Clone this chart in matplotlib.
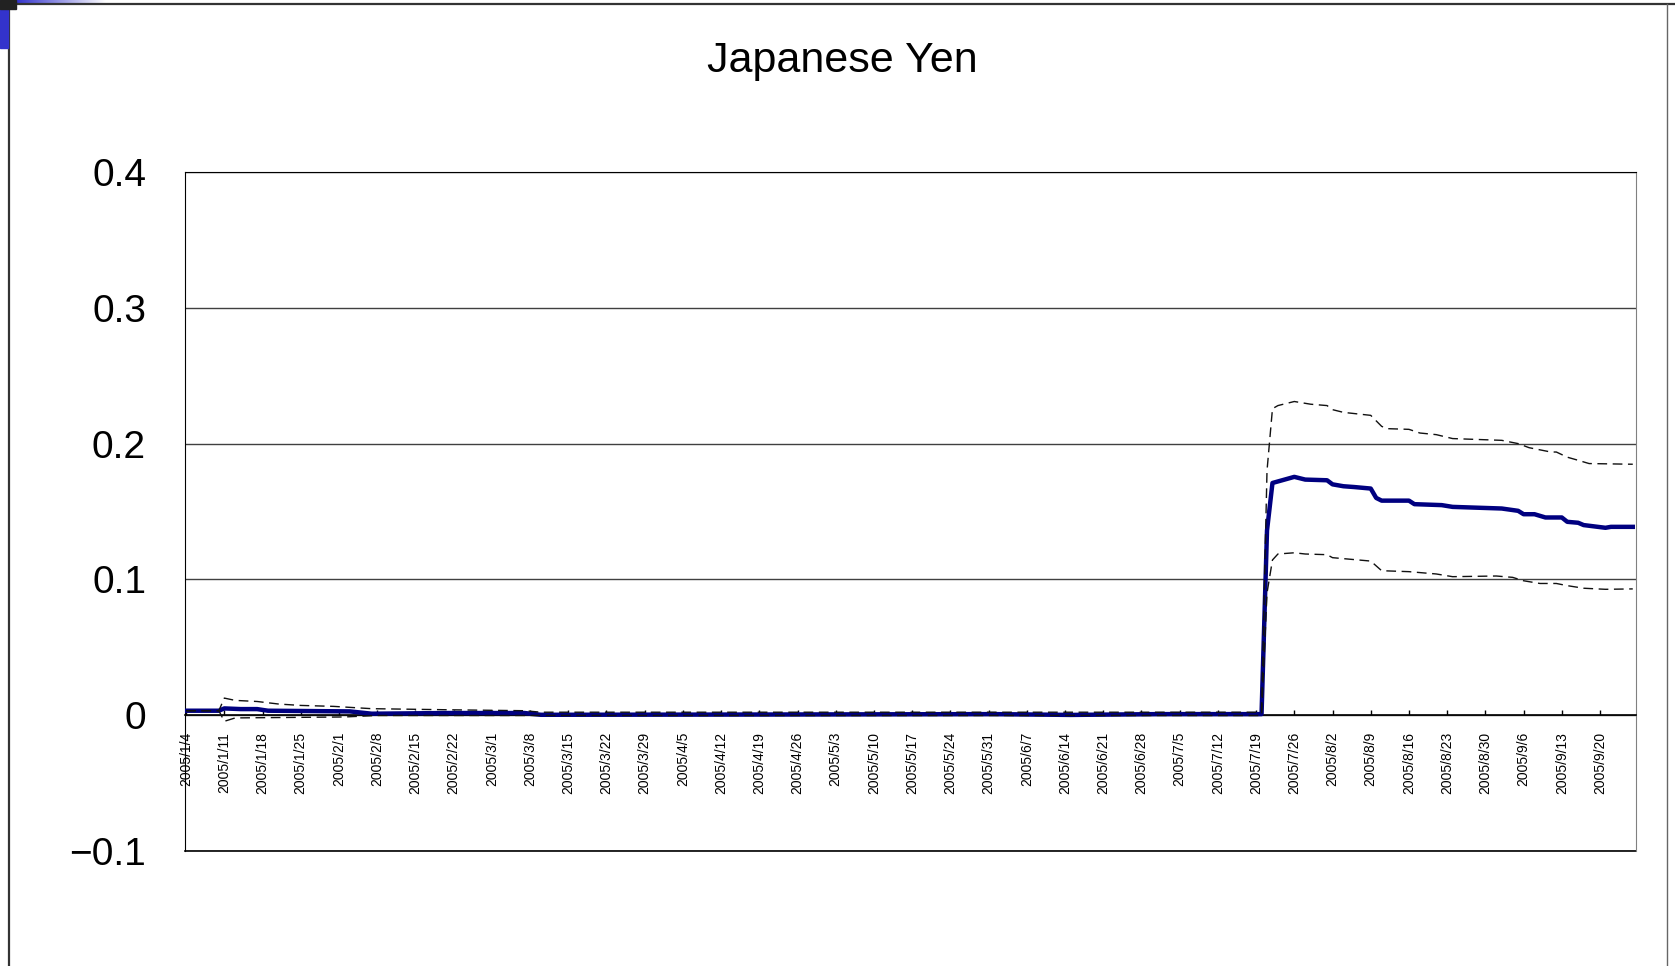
import numpy as np
import pandas as pd
import matplotlib
matplotlib.use('Agg')
import matplotlib.pyplot as plt
import matplotlib.dates as mdates
from matplotlib.lines import Line2D
from matplotlib.patches import Rectangle
from matplotlib.ticker import FuncFormatter

plt.rcParams['font.family'] = ['Liberation Sans', 'DejaVu Sans']

# 推定値 (中心線)
est_dates = ['2005-01-04', '2005-01-10', '2005-01-11', '2005-01-14', '2005-01-17',
             '2005-01-19', '2005-02-03', '2005-02-07', '2005-02-21', '2005-03-07',
             '2005-03-10', '2005-04-20', '2005-06-01', '2005-06-15', '2005-07-01',
             '2005-07-20', '2005-07-21', '2005-07-22', '2005-07-26', '2005-07-28',
             '2005-08-01', '2005-08-02', '2005-08-04', '2005-08-06', '2005-08-09',
             '2005-08-10', '2005-08-11', '2005-08-16', '2005-08-17', '2005-08-22',
             '2005-08-24', '2005-09-02', '2005-09-05', '2005-09-06', '2005-09-08',
             '2005-09-10', '2005-09-13', '2005-09-14', '2005-09-16', '2005-09-17',
             '2005-09-21', '2005-09-22', '2005-09-26']
est_vals = [0.0033, 0.0033, 0.0050, 0.0045, 0.0045,
            0.0033, 0.0028, 0.0011, 0.0016, 0.0016,
            0.0003, 0.0005, 0.0008, 0.0002, 0.0008,
            0.0008, 0.136, 0.171, 0.1755, 0.1735,
            0.173, 0.170, 0.1686, 0.168, 0.1669,
            0.160, 0.158, 0.158, 0.1554, 0.1547,
            0.1534, 0.1522, 0.1505, 0.148, 0.148,
            0.1456, 0.1456, 0.1424, 0.1417, 0.140,
            0.138, 0.1387, 0.1387]

# 上限 (破線)
upper_dates = ['2005-01-04', '2005-01-10', '2005-01-11', '2005-01-13', '2005-01-17',
               '2005-01-21', '2005-01-25', '2005-01-31', '2005-02-07', '2005-02-21',
               '2005-03-07', '2005-03-10', '2005-05-01', '2005-07-20', '2005-07-21',
               '2005-07-22', '2005-07-23', '2005-07-26', '2005-07-29', '2005-08-01',
               '2005-08-02', '2005-08-04', '2005-08-09', '2005-08-11', '2005-08-12',
               '2005-08-16', '2005-08-18', '2005-08-21', '2005-08-24', '2005-09-02',
               '2005-09-05', '2005-09-07', '2005-09-11', '2005-09-12', '2005-09-14',
               '2005-09-16', '2005-09-18', '2005-09-26']
upper_vals = [0.0033, 0.0033, 0.0126, 0.0109, 0.0101,
              0.0082, 0.0072, 0.0065, 0.0048, 0.0040,
              0.0033, 0.0022, 0.0022, 0.0022, 0.180,
              0.2257, 0.228, 0.231, 0.229, 0.228,
              0.225, 0.223, 0.2208, 0.2127, 0.211,
              0.2105, 0.2078, 0.2066, 0.2037, 0.2024,
              0.200, 0.197, 0.1938, 0.1938, 0.190,
              0.1877, 0.1853, 0.1848]

# 下限 (破線)
lower_dates = ['2005-01-04', '2005-01-10', '2005-01-11', '2005-01-13', '2005-02-02',
               '2005-02-08', '2005-07-20', '2005-07-21', '2005-07-22', '2005-07-23',
               '2005-07-26', '2005-07-28', '2005-08-01', '2005-08-02', '2005-08-09',
               '2005-08-11', '2005-08-16', '2005-08-21', '2005-08-24', '2005-09-01',
               '2005-09-04', '2005-09-06', '2005-09-09', '2005-09-12', '2005-09-14',
               '2005-09-17', '2005-09-21', '2005-09-26']
lower_vals = [0.0033, 0.0033, -0.0045, -0.0020, -0.0013,
              -0.0002, -0.0002, 0.090, 0.1143, 0.1187,
              0.1196, 0.1187, 0.1182, 0.116, 0.1135,
              0.1064, 0.1057, 0.104, 0.102, 0.1025,
              0.1015, 0.099, 0.097, 0.097, 0.0954,
              0.0935, 0.0927, 0.093]

# 目盛 (週ごと)
tick_dates = pd.date_range('2005-01-04', '2005-09-20', freq='7D')
y_ticks = [-0.1, 0, 0.1, 0.2, 0.3, 0.4]

W, H = 1675, 966
fig = plt.figure(figsize=(W / 100, H / 100), dpi=100)
fig.patch.set_facecolor('white')

# 外枠の飾り
fig.patches.append(Rectangle((0, 1 - 48 / H), 8 / W, 48 / H, transform=fig.transFigure,
                             color='#3333cc', zorder=5))
fig.patches.append(Rectangle((0, 1 - 9 / H), 16 / W, 9 / H, transform=fig.transFigure,
                             color='#222222', zorder=6))
gax = fig.add_axes([16 / W, 1 - 3 / H, 90 / W, 3 / H])
grad = np.linspace(0, 1, 200).reshape(1, -1)
gax.imshow(grad, aspect='auto', cmap=matplotlib.colors.LinearSegmentedColormap.from_list(
    'g', ['#3333cc', '#ffffff']))
gax.axis('off')
fig.add_artist(Line2D([8 / W, 1], [1 - 4 / H] * 2, color='#333333', lw=1.6))
fig.add_artist(Line2D([9 / W] * 2, [0, 1 - 4 / H], color='#333333', lw=1.6))
fig.add_artist(Line2D([1667 / W] * 2, [0, 1 - 4 / H], color='#666666', lw=1.0))

ax = fig.add_axes([185 / W, 1 - 851 / H, (1635.5 - 185) / W, (851 - 172) / H])

x_est = pd.to_datetime(est_dates)
x_up = pd.to_datetime(upper_dates)
x_lo = pd.to_datetime(lower_dates)

ax.plot(x_est, est_vals, color='#000080', lw=3.2, solid_joinstyle='round', zorder=3)
ax.plot(x_up, upper_vals, color='#111111', lw=1.0, dashes=(7, 4), zorder=4)
ax.plot(x_lo, lower_vals, color='#111111', lw=1.0, dashes=(7, 4), zorder=4)

start = mdates.date2num(pd.Timestamp('2005-01-04'))
ax.set_xlim(start - 0.2, start + 265.5)
ax.set_ylim(-0.1, 0.4)

ax.set_yticks(y_ticks)
ax.yaxis.set_major_formatter(FuncFormatter(
    lambda v, p: '0' if abs(v) < 1e-9 else ('%.1f' % v).replace('-', '\u2212')))
ax.tick_params(axis='y', length=0, pad=28, labelsize=28)
ax.yaxis.grid(True, color='#404040', lw=1.0)
ax.set_axisbelow(True)

ax.set_xticks(tick_dates)
ax.set_xticklabels([f'{d.year}/{d.month}/{d.day}' for d in tick_dates], fontsize=10)
ax.tick_params(axis='x', direction='in', length=3.5, pad=12, width=1, color='black',
               labelrotation=90)
for lab in ax.get_xticklabels():
    lab.set_ha('center')
    lab.set_va('top')

ax.spines['bottom'].set_position(('data', 0))
ax.spines['bottom'].set_linewidth(1.2)
ax.spines['left'].set_color('black')
ax.spines['top'].set_color('black')
ax.spines['right'].set_color('#808080')
ax.axhline(-0.1, color='black', lw=1.2, clip_on=False)

fig.text(842 / W, 1 - 61 / H, 'Japanese Yen', ha='center', va='center', fontsize=31)

plt.savefig('out.png', dpi=100)
